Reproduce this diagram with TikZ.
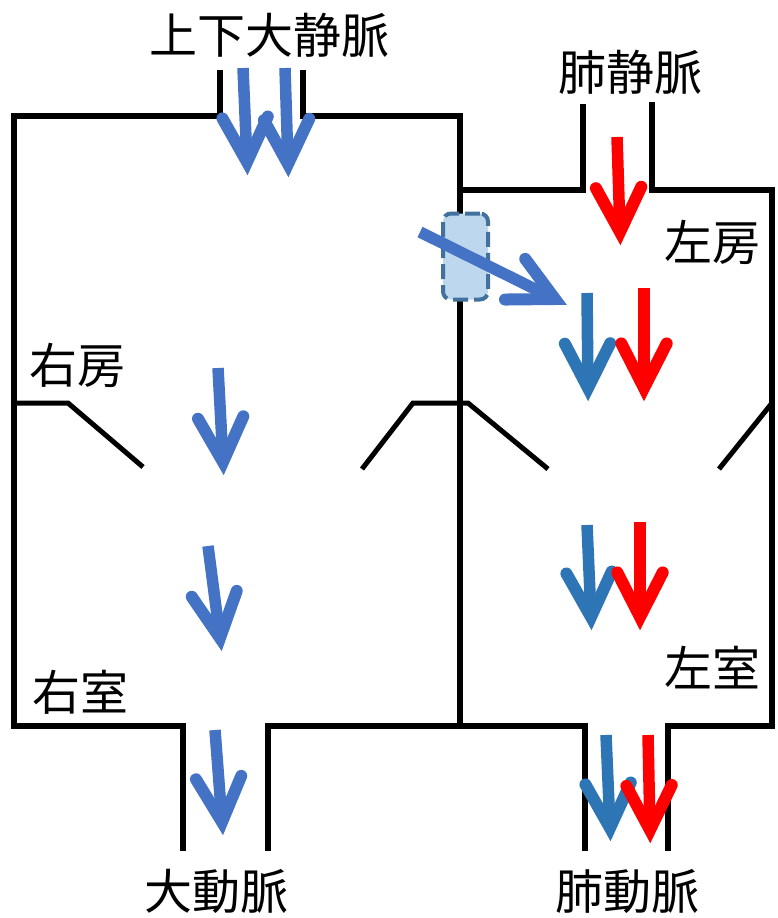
\documentclass[tikz,border=0pt]{standalone}
\usepackage{fontspec}
\newfontfamily\cjk{Noto Sans CJK JP}
\usetikzlibrary{calc}
\definecolor{blueA}{RGB}{68,114,196}
\definecolor{blueB}{RGB}{46,117,182}
\definecolor{redA}{RGB}{255,0,0}
\definecolor{shuntfill}{RGB}{189,215,238}
\definecolor{shuntdraw}{RGB}{65,113,156}
\newcommand\flowarrow[3]{%
  \draw[line width=11.5pt,#1,shorten >=6pt] (#2) -- (#3);
  \draw[line width=12pt,#1,line cap=round,line join=miter]
    ($(#3)!50pt!27:(#2)$) -- (#3) -- ($(#3)!50pt!-27:(#2)$);
}
\begin{document}
\begin{tikzpicture}[x=1pt,y=-1pt,
  wall/.style={line width=6.5pt,line join=miter,line cap=butt},
  valve/.style={line width=5pt,line join=miter,line cap=butt},
  lbl/.style={font=\cjk\fontsize{48}{48}\selectfont,inner sep=0pt}]
\useasboundingbox (0,0) rectangle (778,918);
% walls
\draw[wall] (220,70) -- (220,116) -- (14,116) -- (14,726) -- (183,726) -- (183,851);
\draw[wall] (303,70) -- (303,116) -- (460,116) -- (460,726) -- (268,726) -- (268,851);
\draw[wall] (460,726) -- (585,726) -- (585,851);
\draw[wall] (460,190) -- (583,190) -- (583,104);
\draw[wall] (652,102) -- (652,190) -- (772,190) -- (772,726) -- (668,726) -- (668,851);
% valves
\draw[valve] (14,403) -- (68,403) -- (143,467);
\draw[valve] (362,469) -- (413,403) -- (468,403) -- (548,469);
\draw[valve] (719,469) -- (772,403);
% shunt
\node[draw=shuntdraw,fill=shuntfill,line width=4pt,dash pattern=on 15pt off 6pt,
  rounded corners=8pt,minimum width=45pt,minimum height=86pt,inner sep=0pt]
  (shunt) at (465.5,256.5) {};
% coordinates
\coordinate (v1s) at (243,68);  \coordinate (v1t) at (247,162);
\coordinate (v2s) at (285,68);  \coordinate (v2t) at (288,164);
\coordinate (ras) at (218,368); \coordinate (rat) at (223,462);
\coordinate (rvs) at (208,546); \coordinate (rvt) at (220,638);
\coordinate (aos) at (215,730); \coordinate (aot) at (222,822);
\coordinate (sas) at (420,232); \coordinate (sat) at (555,299);
\coordinate (pvs) at (617,137); \coordinate (pvt) at (620,232);
\coordinate (labs) at (587,293); \coordinate (labt) at (588,388);
\coordinate (lars) at (644,288); \coordinate (lart) at (644,388);
\coordinate (lvbs) at (587,525); \coordinate (lvbt) at (591,617);
\coordinate (lvrs) at (640,522); \coordinate (lvrt) at (640,617);
\coordinate (pabs) at (606,735); \coordinate (pabt) at (610,828);
\coordinate (pars) at (648,735); \coordinate (part) at (650,830);
% arrows
\flowarrow{blueA}{v1s}{v1t}
\flowarrow{blueA}{v2s}{v2t}
\flowarrow{blueA}{ras}{rat}
\flowarrow{blueA}{rvs}{rvt}
\flowarrow{blueA}{aos}{aot}
\flowarrow{blueA}{sas}{sat}
\flowarrow{redA}{pvs}{pvt}
\flowarrow{blueB}{labs}{labt}
\flowarrow{redA}{lars}{lart}
\flowarrow{blueB}{lvbs}{lvbt}
\flowarrow{redA}{lvrs}{lvrt}
\flowarrow{blueB}{pabs}{pabt}
\flowarrow{redA}{pars}{part}
% labels
\node[lbl] (svc) at (269,35) {上下大静脈};
\node[lbl] (pv) at (630,72) {肺静脈};
\node[lbl] (la) at (712,242) {左房};
\node[lbl] (ra) at (77,365) {右房};
\node[lbl] (rv) at (80,692) {右室};
\node[lbl] (lv) at (712,668) {左室};
\node[lbl] (ao) at (216,891) {大動脈};
\node[lbl] (pa) at (627,891) {肺動脈};
\end{tikzpicture}
\end{document}
